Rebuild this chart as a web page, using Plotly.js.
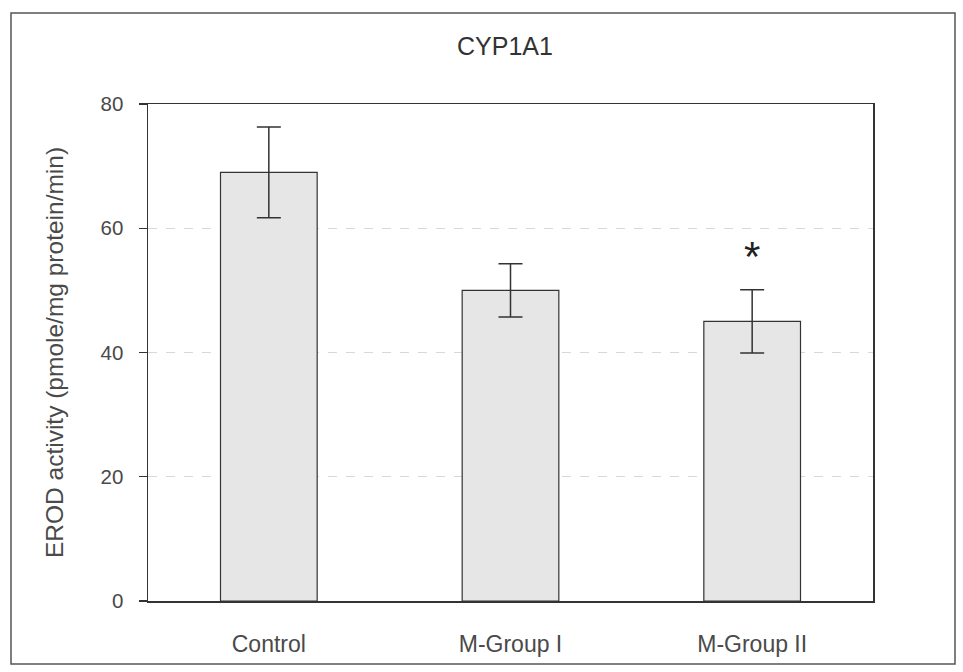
<!DOCTYPE html>
<html>
<head>
<meta charset="utf-8">
<script src="https://cdn.plot.ly/plotly-3.0.1.min.js"></script>
<style>
html,body{margin:0;padding:0;background:#fff;}
#chart{width:963px;height:672px;}
</style>
</head>
<body>
<div id="chart"></div>
<script>
var categories = ["Control", "M-Group I", "M-Group II"];
var meanValues = [69.0, 50.0, 45.0];
var errorValues = [7.3, 4.3, 5.1];
var yTickValues = [0, 20, 40, 60, 80];
var significance = [{group: "M-Group II", y: 55.5, mark: "*"}];

var trace = {
  type: "bar",
  x: categories,
  y: meanValues,
  width: 0.4,
  marker: {color: "#e6e6e6", line: {color: "#333333", width: 1.2}},
  error_y: {type: "data", array: errorValues, visible: true, color: "#333333", thickness: 1.5, width: 12},
  hoverinfo: "x+y"
};

var W = 963, H = 672, L = 148, R = 90, T = 104, B = 71;
var pw = W - L - R, ph = H - T - B;
function px(x){ return (x - L) / pw; }
function py(y){ return (H - B - y) / ph; }

var layout = {
  width: W, height: H,
  margin: {l: L, r: R, t: T, b: B},
  paper_bgcolor: "#ffffff",
  plot_bgcolor: "#ffffff",
  font: {family: "Liberation Sans, Arial, sans-serif", color: "#4a4a4a", size: 20},
  title: {text: "CYP1A1", x: 505 / W, xanchor: "center", y: 1 - 46 / H, yanchor: "middle",
          font: {size: 25, color: "#333333"}},
  showlegend: false,
  xaxis: {
    type: "category",
    showline: true, mirror: true, linecolor: "#333333", linewidth: 1.5,
    ticks: "", showgrid: false, zeroline: false,
    tickfont: {size: 23, color: "#4a4a4a"},
    ticklabelstandoff: 22
  },
  yaxis: {
    range: [0, 80], tickvals: yTickValues, ticktext: yTickValues.map(String),
    showline: true, mirror: true, linecolor: "#333333", linewidth: 1.5,
    ticks: "outside", ticklen: 8, tickcolor: "#333333", tickwidth: 1.2,
    showgrid: true, gridcolor: "#d8d8d8", griddash: "dash", gridwidth: 1,
    zeroline: false,
    tickfont: {size: 20.5, color: "#4a4a4a"},
    ticklabelstandoff: 11,
    title: {text: "EROD activity (pmole/mg protein/min)", font: {size: 24.5, color: "#4a4a4a"}, standoff: 30}
  },
  annotations: significance.map(function(s){
    return {x: s.group, y: s.y, xref: "x", yref: "y", text: s.mark, showarrow: false,
            font: {size: 42, color: "#222222", family: "Liberation Sans, Arial, sans-serif"}, yanchor: "middle"};
  }),
  shapes: [{
    type: "rect", xref: "paper", yref: "paper",
    x0: px(11), x1: px(955), y0: py(664), y1: py(13),
    line: {color: "#555555", width: 1.5}, fillcolor: "rgba(0,0,0,0)", layer: "below"
  }]
};

Plotly.newPlot("chart", [trace], layout, {displayModeBar: false, staticPlot: true});
</script>
</body>
</html>
